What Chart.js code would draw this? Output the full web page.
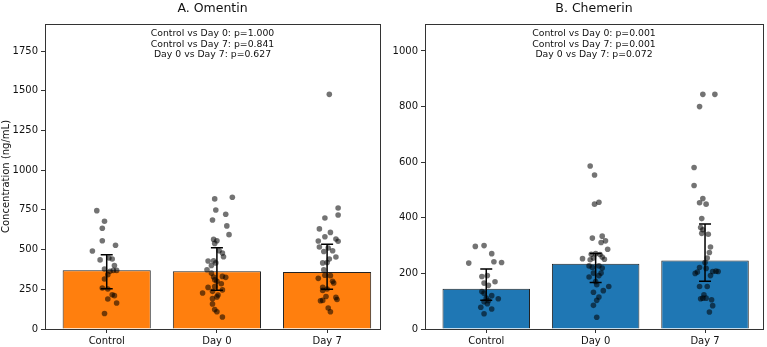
<!DOCTYPE html>
<html>
<head>
<meta charset="utf-8">
<script src="https://cdn.jsdelivr.net/npm/chart.js@4"></script>
<style>
    body { margin: 0; background: #fff; }
    #contenedor { position: relative; width: 767px; height: 347px; }
    canvas { position: absolute; top: 0; }
</style>
</head>
<body>
<div id="contenedor">
    <canvas id="grafica_omentin" width="384" height="347" style="left:0"></canvas>
    <canvas id="grafica_chemerin" width="383" height="347" style="left:384px"></canvas>
</div>
<script>
// Datos.
var categorias = ['Control', 'Day 0', 'Day 7'];

var omentinMedias = [370, 363, 359];
var omentinIcBajo = [254, 244, 250];
var omentinIcAlto = [468, 512, 533];
var omentinTicks = [0, 250, 500, 750, 1000, 1250, 1500, 1750];
var omentinPvalores = ['Control vs Day 0: p=1.000', 'Control vs Day 7: p=0.841',
    'Day 0 vs Day 7: p=0.627'];

var omentinControl = [745, 678, 634, 556, 527, 491, 435, 447, 441, 399, 378, 363,
    369, 369, 342, 315, 258, 252, 216, 210, 189, 164, 98];
var omentinControlJitter = [-0.09, -0.02, -0.04, -0.04, 0.08, -0.13, -0.06, 0.02,
    0.05, 0.07, -0.02, 0.03, 0.06, 0.09, 0.01, -0.02, -0.04, 0.01, 0.05, 0.07,
    0.01, 0.09, -0.02];
var omentinDia0 = [819, 829, 749, 722, 686, 649, 594, 564, 556, 539, 493, 478, 455,
    428, 430, 416, 400, 373, 352, 327, 331, 325, 310, 300, 285, 262, 268, 246, 237,
    227, 214, 202, 191, 157, 122, 109, 76];
var omentinDia0Jitter = [-0.02, 0.14, -0.01, 0.08, -0.04, 0.09, 0.11, -0.03, 0,
    -0.02, 0.02, 0.05, 0.06, -0.08, -0.03, -0.01, -0.05, -0.09, -0.05, -0.03, 0.05,
    0.08, -0.02, 0, 0.04, -0.08, -0.02, 0.05, -0.04, -0.13, 0.01, 0, -0.04, -0.04,
    -0.02, 0, 0.05];
var omentinDia7 = [1477, 762, 718, 699, 630, 608, 581, 567, 552, 554, 516, 488, 510,
    493, 453, 441, 416, 419, 372, 319, 338, 336, 300, 290, 262, 252, 243, 205, 199,
    186, 178, 180, 132, 109];
var omentinDia7Jitter = [0.02, 0.10, 0.10, -0.02, -0.07, 0.03, -0.02, 0.08, 0.10,
    -0.08, -0.07, -0.03, 0.01, 0.05, 0.08, 0.02, -0.04, 0, -0.03, -0.08, -0.02, 0.03,
    0.05, 0.06, -0.04, 0, -0.04, -0.01, 0.08, 0.09, -0.06, -0.04, 0.01, 0.03];

var chemerinMedias = [145, 235, 246];
var chemerinIcBajo = [103, 167, 172];
var chemerinIcAlto = [216, 272, 378];
var chemerinTicks = [0, 200, 400, 600, 800, 1000];
var chemerinPvalores = ['Control vs Day 0: p=0.001', 'Control vs Day 7: p=0.001',
    'Day 0 vs Day 7: p=0.072'];

var chemerinControl = [297, 300, 271, 237, 242, 239, 189, 192, 170, 165, 157, 135,
    129, 120, 109, 111, 102, 98, 91, 78, 72, 55];
var chemerinControlJitter = [-0.10, -0.02, 0.05, -0.16, 0.07, 0.14, -0.04, 0.01,
    0.08, -0.02, 0.02, -0.04, -0.02, 0.05, 0.11, 0, 0.02, -0.02, 0.01, -0.05, 0.05,
    -0.02];
var chemerinDia0 = [586, 554, 449, 456, 327, 334, 317, 311, 287, 269, 271, 268, 253,
    249, 255, 259, 251, 227, 221, 227, 219, 201, 201, 187, 192, 171, 159, 153, 138,
    132, 115, 103, 85, 42];
var chemerinDia0Jitter = [-0.05, -0.01, -0.01, 0.03, -0.03, 0.06, 0.09, 0.05, 0.11,
    -0.04, 0, 0.04, -0.12, -0.05, -0.02, 0.06, 0.08, -0.06, -0.03, 0.03, 0.06, -0.02,
    0.05, -0.06, 0.03, 0, 0.01, 0.12, 0.07, -0.02, 0.03, 0.01, -0.02, 0.01];
var chemerinDia7 = [844, 844, 800, 581, 516, 469, 454, 449, 397, 365, 357, 344, 341,
    295, 275, 255, 239, 221, 218, 207, 208, 207, 205, 200, 192, 153, 153, 123, 109,
    111, 111, 105, 84, 61];
var chemerinDia7Jitter = [-0.02, 0.09, -0.05, -0.10, -0.10, -0.02, -0.05, 0.01,
    -0.03, -0.04, -0.02, -0.03, 0.03, 0.05, 0.04, 0.02, 0, -0.05, 0.01, 0.07, 0.10,
    0.12, -0.07, -0.09, 0.05, -0.05, 0.02, -0.01, -0.04, -0.02, 0.01, 0.06, 0.07,
    0.04];

Chart.defaults.font.family = "'DejaVu Sans', sans-serif";
Chart.defaults.color = '#111';

// Plugin que dibuja el titulo, los p-valores, las barras de error y el marco.
function getPluginPanel(p) {
    return {
        id: 'panel',
        afterDatasetsDraw: function (chart) {
            var ctx = chart.ctx;
            var ejeX = chart.scales.x;
            var ejeY = chart.scales.y;
            ctx.save();
            ctx.strokeStyle = '#000';
            ctx.lineWidth = 1.5;
            for (var i = 0; i < categorias.length; i++) {
                var x = ejeX.getPixelForValue(i);
                var yBajo = ejeY.getPixelForValue(p.icBajo[i]);
                var yAlto = ejeY.getPixelForValue(p.icAlto[i]);
                ctx.beginPath();
                ctx.moveTo(x, yBajo);
                ctx.lineTo(x, yAlto);
                ctx.moveTo(x - 6, yBajo);
                ctx.lineTo(x + 6, yBajo);
                ctx.moveTo(x - 6, yAlto);
                ctx.lineTo(x + 6, yAlto);
                ctx.stroke();
            }
            ctx.restore();
        },
        afterDraw: function (chart) {
            var ctx = chart.ctx;
            var area = chart.chartArea;
            var centro = (area.left + area.right) / 2;
            ctx.save();
            ctx.strokeStyle = '#333';
            ctx.lineWidth = 1;
            ctx.strokeRect(Math.round(area.left) + 0.5, Math.round(area.top) + 0.5,
                Math.round(area.right - area.left), Math.round(area.bottom - area.top));
            ctx.fillStyle = '#111';
            ctx.textAlign = 'center';
            ctx.textBaseline = 'middle';
            ctx.font = "12.5px 'DejaVu Sans'";
            ctx.fillText(p.titulo, centro, 9);
            ctx.font = "9.3px 'DejaVu Sans'";
            for (var i = 0; i < p.lineas.length; i++) {
                ctx.fillText(p.lineas[i], centro, area.top + 9.8 + i * 10.4);
            }
            ctx.restore();
        }
    };
}

// Crea la grafica de barras con puntos individuales y barras de error.
function crearGrafica(idCanvas, p) {
    var contexto = document.getElementById(idCanvas).getContext('2d');
    var puntos = [];
    var barras = [];
    for (var i = 0; i < categorias.length; i++) {
        barras.push({ x: i, y: p.medias[i] });
        for (var j = 0; j < p.grupos[i].length; j++) {
            puntos.push({ x: i + p.jitter[i][j], y: p.grupos[i][j] });
        }
    }
    return new Chart(contexto, {
        type: 'bar',
        data: {
            datasets: [{
                type: 'scatter',
                data: puntos,
                backgroundColor: 'rgba(0, 0, 0, 0.55)',
                borderWidth: 0,
                pointRadius: 2.8,
                order: 0
            }, {
                type: 'bar',
                data: barras,
                backgroundColor: p.color,
                borderColor: '#222',
                borderWidth: 1,
                categoryPercentage: 0.8,
                barPercentage: 1,
                order: 2
            }]
        },
        options: {
            responsive: false,
            animation: false,
            devicePixelRatio: 1,
            layout: { padding: { top: 24, right: p.margenDerecho, left: 0, bottom: 0 } },
            plugins: { legend: { display: false }, tooltip: { enabled: false } },
            scales: {
                x: {
                    type: 'linear',
                    min: p.xMin,
                    max: p.xMax,
                    offset: false,
                    afterBuildTicks: function (eje) {
                        eje.ticks = categorias.map(function (c, i) { return { value: i }; });
                    },
                    afterFit: function (eje) { eje.height = 18; },
                    grid: { drawOnChartArea: false, offset: false, tickLength: 4, color: '#333' },
                    border: { color: '#333' },
                    ticks: {
                        callback: function (v) { return categorias[v]; },
                        padding: 2, maxRotation: 0, autoSkip: false, font: { size: 10 }
                    }
                },
                y: {
                    type: 'linear',
                    min: 0,
                    max: p.yMax,
                    afterBuildTicks: function (eje) {
                        eje.ticks = p.ticks.map(function (v) { return { value: v }; });
                    },
                    afterFit: function (eje) { eje.width = p.anchoEje; },
                    grid: { drawOnChartArea: false, tickLength: 4, color: '#333' },
                    border: { color: '#333' },
                    ticks: {
                        callback: function (v) { return String(v); },
                        padding: 3, font: { size: 10 }
                    },
                    title: {
                        display: p.tituloY !== undefined,
                        text: p.tituloY,
                        font: { size: 10 },
                        padding: { top: 0, bottom: 0 }
                    }
                }
            }
        },
        plugins: [getPluginPanel(p)]
    });
}

// Ejecucion del script
crearGrafica('grafica_omentin', {
    titulo: 'A. Omentin',
    lineas: omentinPvalores,
    medias: omentinMedias,
    icBajo: omentinIcBajo,
    icAlto: omentinIcAlto,
    grupos: [omentinControl, omentinDia0, omentinDia7],
    jitter: [omentinControlJitter, omentinDia0Jitter, omentinDia7Jitter],
    ticks: omentinTicks,
    color: '#ff7f0e',
    tituloY: 'Concentration (ng/mL)',
    xMin: -0.56, xMax: 2.48, yMax: 1920,
    anchoEje: 45, margenDerecho: 4
});
crearGrafica('grafica_chemerin', {
    titulo: 'B. Chemerin',
    lineas: chemerinPvalores,
    medias: chemerinMedias,
    icBajo: chemerinIcBajo,
    icAlto: chemerinIcAlto,
    grupos: [chemerinControl, chemerinDia0, chemerinDia7],
    jitter: [chemerinControlJitter, chemerinDia0Jitter, chemerinDia7Jitter],
    ticks: chemerinTicks,
    color: '#1f77b4',
    xMin: -0.56, xMax: 2.53, yMax: 1097,
    anchoEje: 41, margenDerecho: 2
});
</script>
</body>
</html>
